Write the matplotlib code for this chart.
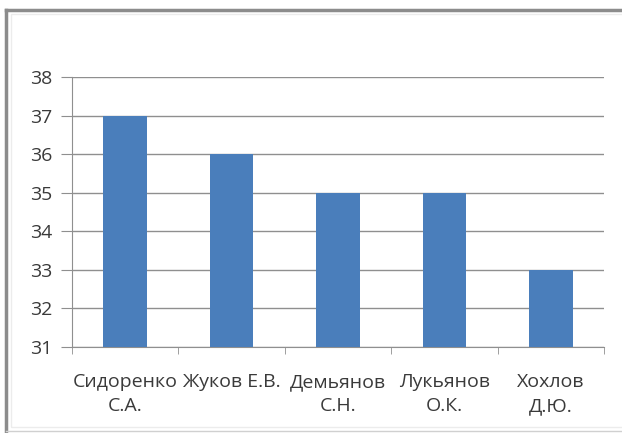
import matplotlib.pyplot as plt
from matplotlib.patches import Rectangle
import numpy as np

# данные
names = ['Сидоренко\nС.А.', 'Жуков Е.В.', 'Демьянов\nС.Н.', 'Лукьянов\nО.К.', 'Хохлов\nД.Ю.']
values = [37, 36, 35, 35, 33]
yticks = [31, 32, 33, 34, 35, 36, 37, 38]

plt.rcParams['font.family'] = ['Open Sans', 'DejaVu Sans']

fig = plt.figure(figsize=(6.22, 4.33), dpi=100)
fig.patch.set_facecolor('white')

# рамка диаграммы (верх и слева тёмная, снизу светлая)
fig.add_artist(plt.Line2D([6/622, 6/622], [2/433, 423/433], color='#8c8c8c', lw=2.5))
fig.add_artist(plt.Line2D([6/622, 1.0], [423/433, 423/433], color='#8c8c8c', lw=2.5))
fig.add_artist(plt.Line2D([6/622, 1.0], [2/433, 2/433], color='#d0d0d0', lw=1))
fig.add_artist(Rectangle((11/622, 6/433), 620/622, 413/433, fill=False,
                         edgecolor='#ececec', lw=1))

ax = fig.add_axes([72/622, 1 - 347/433, 532/622, 270/433])
x = np.arange(len(names))
ax.bar(x, values, width=0.41, color='#4a7ebb', zorder=3)

ax.set_xlim(-0.5, len(names) - 0.5)
ax.set_ylim(31, 38)
ax.set_yticks(yticks)
ax.grid(axis='y', color='#8f8f8f', lw=1, zorder=0)

ax.set_xticks(x)
ax.set_xticklabels(names, fontsize=14, color='#3a3a3a', linespacing=1.4)
ax.set_xticks(np.arange(-0.5, len(names)), minor=True)
ax.tick_params(axis='x', which='major', length=0, pad=19)
ax.tick_params(axis='x', which='minor', length=5, color='#8f8f8f', direction='out')
ax.tick_params(axis='y', length=8, color='#8f8f8f', labelsize=14, labelcolor='#3a3a3a', pad=6)

for s in ['top', 'right']:
    ax.spines[s].set_visible(False)
for s in ['left', 'bottom']:
    ax.spines[s].set_color('#8f8f8f')

fig.savefig('out.png', dpi=100)
